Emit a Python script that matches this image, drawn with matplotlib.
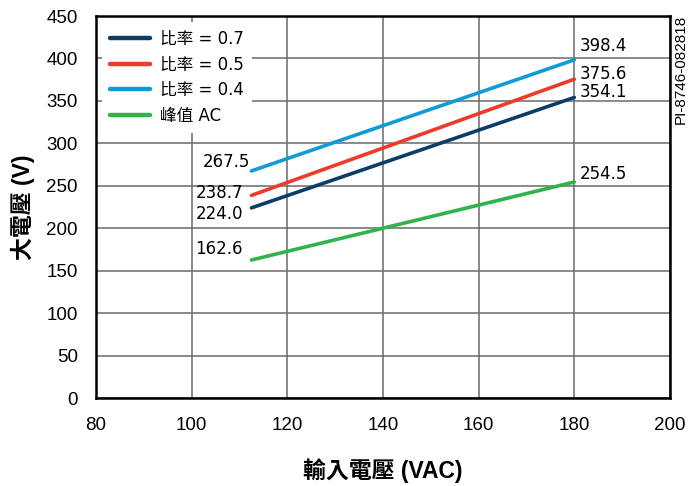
import matplotlib
matplotlib.use('agg')
from matplotlib import pyplot as plt

plt.rcParams['font.family'] = ['Liberation Sans', 'Noto Sans CJK TC']

# input voltage span for every curve
vin = [112.5, 180]

ratio_07 = [224.0, 354.1]
ratio_05 = [238.7, 375.6]
ratio_04 = [267.5, 398.4]
peak_ac = [162.6, 254.5]

series = [
    ('比率 = 0.7', ratio_07, '#0b3d66'),
    ('比率 = 0.5', ratio_05, '#ee3a2a'),
    ('比率 = 0.4', ratio_04, '#109bd8'),
    ('峰值 AC', peak_ac, '#2fb34a'),
]

# label offsets (points) for start / end values
start_offsets = {'比率 = 0.7': (-6, -4.5), '比率 = 0.5': (-6, 1.5),
                 '比率 = 0.4': (-1, 6.5), '峰值 AC': (-6, 8)}
end_offsets = {'比率 = 0.7': (4, 4), '比率 = 0.5': (4, 4),
               '比率 = 0.4': (4, 10), '峰值 AC': (4, 5.5)}

fig = plt.figure(figsize=(6.9, 4.86), dpi=100)
ax = fig.add_axes([0.139, 0.181, 0.832, 0.786])

for name, vals, col in series:
    ax.plot(vin, vals, color=col, lw=2.6, label=name, solid_capstyle='round', zorder=3)
    ax.annotate(f'{vals[0]:.1f}', (vin[0], vals[0]), xytext=start_offsets[name],
                textcoords='offset points', ha='right', va='center',
                fontsize=12, family=['DejaVu Sans'])
    ax.annotate(f'{vals[1]:.1f}', (vin[1], vals[1]), xytext=end_offsets[name],
                textcoords='offset points', ha='left', va='center',
                fontsize=12, family=['DejaVu Sans'])

ax.set_xlim(80, 200)
ax.set_ylim(0, 450)
ax.set_xticks(range(80, 201, 20))
ax.set_yticks(range(0, 451, 50))
ax.grid(True, color='#6a6a6a', lw=1.1)
ax.set_axisbelow(True)
for sp in ax.spines.values():
    sp.set_linewidth(1.8)
ax.tick_params(length=0, labelsize=13.5)
ax.tick_params(axis='y', pad=13)
ax.tick_params(axis='x', pad=14)

ax.set_xlabel('輸入電壓 (VAC)', fontsize=16.5, fontweight='bold', labelpad=17)
ax.set_ylabel('大電壓 (V)', fontsize=16.5, fontweight='bold', labelpad=8)

leg = ax.legend(loc='upper left', frameon=True, fancybox=False,
                edgecolor='none', facecolor='white', framealpha=1,
                handlelength=2.4, handletextpad=0.6, borderaxespad=0.35,
                borderpad=0.5, labelspacing=0.45,
                prop={'family': ['DejaVu Sans', 'Noto Sans CJK TC'], 'size': 12})
for h in leg.get_lines():
    h.set_linewidth(3.2)

fig.text(0.986, 0.97, 'PI-8746-082818', rotation=90, ha='center', va='top',
         fontsize=11, family=['Liberation Sans'])

fig.savefig('out.png', dpi=100)
